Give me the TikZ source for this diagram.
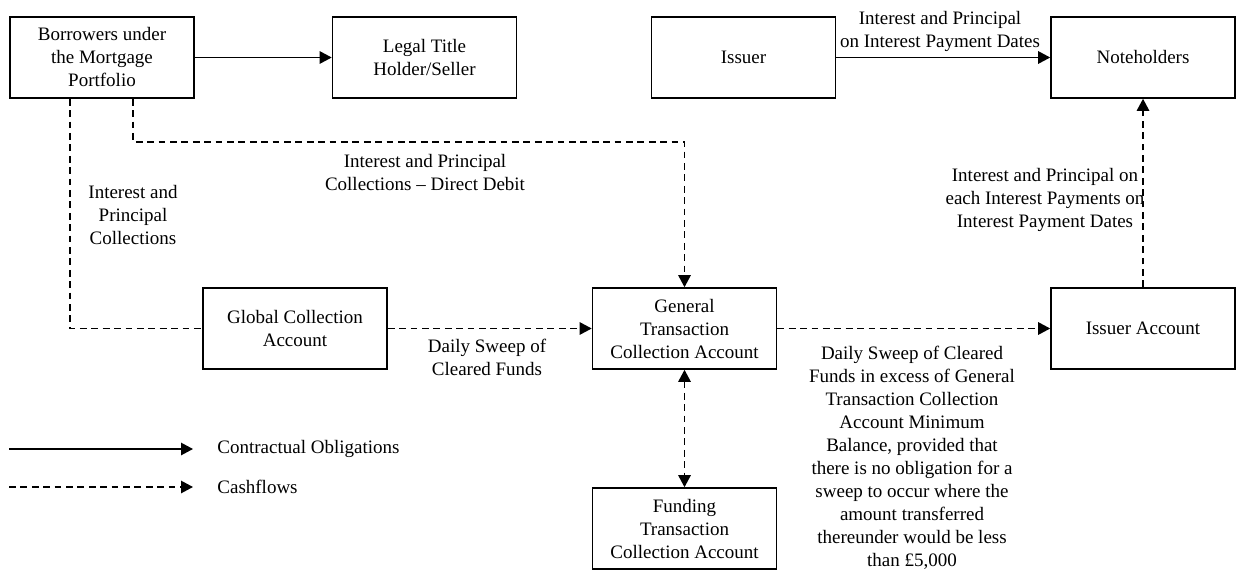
\documentclass[tikz,border=0pt]{standalone}
\usepackage{fontspec}
\setmainfont{Liberation Serif}
\usetikzlibrary{arrows.meta,calc}
\tikzset{
  box/.style={draw, line width=0.8pt, minimum width=92pt, minimum height=40.5pt, inner sep=1pt, align=center, font=\fontsize{9.5}{11.5}\selectfont},
  lbl/.style={align=center, inner sep=0pt, font=\fontsize{9.5}{11.5}\selectfont},
  tip/.style={-{Triangle[length=6pt,width=6.2pt]}},
  oblig/.style={line width=0.8pt, tip},
  cash/.style={line width=0.8pt, dash pattern=on 3.4pt off 2.3pt},
  casharr/.style={cash, tip},
  cashboth/.style={cash, {Triangle[length=6pt,width=6.2pt]}-{Triangle[length=6pt,width=6.2pt]}}
}
\begin{document}
\begin{tikzpicture}[x=0.5pt,y=-0.5pt]
\useasboundingbox (0,0) rectangle (1240,577);
% boxes
\node[box] (bor)   at (102,57.5)   {Borrowers under\\the Mortgage\\Portfolio};
\node[box] (legal) at (424.5,57.5) {Legal Title\\Holder/Seller};
\node[box] (iss)   at (743.5,57.5) {Issuer};
\node[box] (note)  at (1143,57.5)  {Noteholders};
\node[box] (glob)  at (295,328.5)  {Global Collection\\Account};
\node[box] (gen)   at (684.5,328.5) {General\\Transaction\\Collection Account};
\node[box] (iacc)  at (1143,328.5) {Issuer Account};
\node[box] (fund)  at (684.5,528.5) {Funding\\Transaction\\Collection Account};
% labels
\node[lbl] (l1) at (940,31) {Interest and Principal\\on Interest Payment Dates};
\node[lbl] (l2) at (133,215) {Interest and\\Principal\\Collections};
\node[lbl] (l3) at (425,173) {Interest and Principal\\Collections -- Direct Debit};
\node[lbl] (l4) at (487,357) {Daily Sweep of\\Cleared Funds};
\node[lbl] (l5) at (912,458) {Daily Sweep of Cleared\\Funds in excess of General\\Transaction Collection\\Account Minimum\\Balance, provided that\\there is no obligation for a\\sweep to occur where the\\amount transferred\\thereunder would be less\\than £5,000};
\node[lbl] (l6) at (1045,200) {Interest and Principal on\\each Interest Payments on\\Interest Payment Dates};
% connectors
\draw[oblig] (bor) -- (legal);
\draw[oblig] (iss) -- (note);
\draw[cash] ($(bor.south west)+(61,0)$) |- (glob.west);
\draw[casharr] ($(bor.south west)+(124,0)$) -- ++(0,43) -| (gen.north);
\draw[casharr] (glob) -- (gen);
\draw[casharr] (gen) -- (iacc);
\draw[casharr] (iacc) -- (note);
\draw[cashboth] (gen) -- (fund);
% legend
\coordinate (a1) at (9,449);
\coordinate (a2) at (193,449);
\coordinate (b1) at (9,487);
\coordinate (b2) at (193,487);
\draw[oblig] (a1) -- (a2);
\draw[casharr] (b1) -- (b2);
\node[lbl, anchor=west] (lg1) at (217,449) {Contractual Obligations};
\node[lbl, anchor=west] (lg2) at (217,487) {Cashflows};
\end{tikzpicture}
\end{document}
